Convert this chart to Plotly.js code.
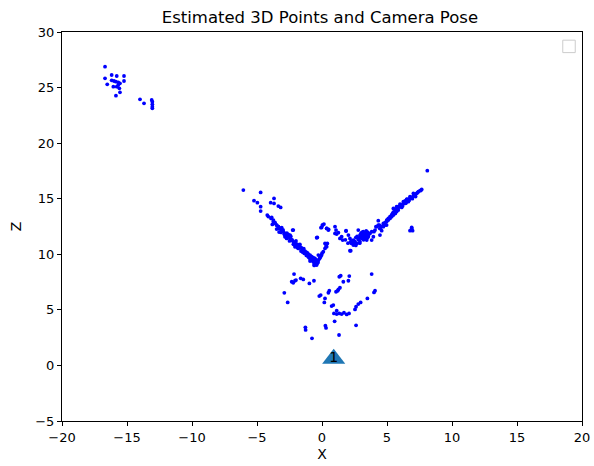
<!DOCTYPE html>
<html>
<head>
<meta charset="utf-8">
<script src="https://cdn.plot.ly/plotly-3.0.1.min.js"></script>
<style>html,body{margin:0;padding:0;background:#fff}#chart{width:594px;height:466px}</style>
</head>
<body>
<div id="chart"></div>
<script>
// Far cluster (upper left)
const farX = [-16.69,-16.69,-16.18,-15.79,-15.23,-15.23,-16.52,-16.18,-16.0,-15.85,-15.67,-15.54,-15.67,-15.79,-15.59,-16.05,-15.54,-15.85,-14.0,-13.69,-13.1,-13.05,-13.05,-13.05,-13.05];
const farZ = [26.88,25.83,26.13,26.04,26.04,25.59,25.29,25.65,25.59,25.53,25.47,25.38,25.23,25.08,24.93,25.08,24.57,24.27,23.94,23.58,23.88,23.73,23.49,23.28,23.13];

// Left arm of the V and sparse points around it
const leftX = [-6.05,-4.72,-5.23,-4.97,-4.72,-4.72,-3.69,-3.95,-3.69,-3.36,-3.18,-4.21,-3.87,-3.74,-3.62,-3.49,-3.36,-3.23,-3.10,-2.26,-0.36,0.05,-0.03,0.15,0.36,0.51,0.41,0.31,
  -4.13,-3.92,-3.74,-3.62,-3.82,-3.49,-3.36,-3.23,-3.49,-3.10,-2.97,-3.15,-2.85,-2.72,-2.59,-2.85,-2.46,-2.33,-2.21,-2.21,-2.08,-1.95,-1.82,-1.69,-2.08,-1.56,-1.44,-1.31,-1.18,-1.36,-1.05,-0.92,-1.10,-0.79,-0.67,-0.54,-0.79,-0.92,-0.67,-0.54,-0.41,-0.28,-0.15,-0.03,0.10,0.23,0.36,-0.41,-0.59,-0.28,-0.41,0.03,-0.08,0.36,0.49,0.23,
  -1.05,-0.67,-0.85,-0.49,-1.18,-1.82,-1.62,-2.46,-2.72];
const leftZ = [15.78,15.57,14.82,14.64,14.28,13.89,15.03,14.64,14.58,14.34,14.22,13.53,13.32,12.94,12.78,12.63,12.48,12.33,12.18,12.18,11.52,12.63,12.42,12.72,12.33,12.24,10.98,10.74,
  13.39,13.23,13.08,12.87,12.69,12.63,12.48,12.33,12.27,12.18,12.03,11.97,11.88,11.73,11.58,11.58,11.43,11.28,12.18,11.13,11.07,10.89,10.77,10.68,10.68,10.53,10.38,10.29,10.17,10.08,9.99,9.93,9.87,9.78,9.69,9.63,9.48,9.39,9.33,9.18,9.33,9.48,9.69,9.93,10.23,10.53,10.68,9.03,9.09,9.93,11.49,12.63,12.39,12.33,12.18,10.98,
  9.78,9.57,9.63,9.48,9.99,10.53,10.29,11.73,11.43];

// Middle cluster and right arm
const rightX = [1.08,1.26,1.13,1.38,1.59,1.85,2.21,4.0,4.15,4.33,4.41,4.72,4.97,6.90,6.77,6.97,8.10,
  1.0,1.0,1.85,1.51,2.03,2.15,2.21,2.28,2.41,2.54,2.41,2.67,2.79,2.92,3.05,3.18,3.31,3.44,3.18,3.05,3.31,3.56,3.69,3.82,3.95,4.08,4.21,4.33,4.46,4.59,4.72,4.85,4.97,5.10,5.23,5.36,5.49,5.62,5.74,3.44,2.92,2.79,2.15,4.46,3.82,3.13,3.38,3.23,2.97,3.49,
  7.67,7.54,7.41,7.28,7.15,7.03,6.90,6.77,6.64,6.51,6.38,6.26,6.13,6.0,5.87,5.74,5.62,5.49,5.44,5.36,5.23,5.10,4.97,4.85,4.72,4.59,4.46,6.90,7.03,6.77,6.51,6.26,6.0,5.74,5.62,5.87,6.13,6.38,6.64,5.49];
const rightZ = [12.18,11.94,11.82,11.43,11.28,12.09,10.32,12.03,12.48,13.02,12.63,12.48,12.63,12.33,12.12,12.12,17.52,
  12.48,11.88,12.12,11.58,11.73,11.43,11.13,10.98,11.28,11.13,10.83,10.98,11.43,11.73,11.88,12.03,11.88,11.73,11.58,11.43,11.43,11.58,11.88,12.03,11.58,12.18,12.48,12.63,12.33,12.12,12.78,12.63,12.93,13.08,13.23,13.38,13.53,13.68,13.83,11.28,11.13,12.18,10.32,11.73,11.28,11.82,11.94,11.73,11.58,11.49,
  15.84,15.72,15.63,15.48,15.33,15.24,15.12,15.03,14.88,14.82,14.73,14.58,14.43,14.34,14.22,14.04,13.92,13.80,13.68,13.53,13.38,13.23,13.02,12.84,12.63,12.48,12.33,12.42,15.48,15.18,14.94,14.73,14.52,14.28,13.68,13.98,14.22,14.58,14.73,14.13];

const denseX = [-3.3,-3.0,-2.9,-2.6,-2.4,-2.3,-2.0,-1.9,-1.7,-1.6,-1.4,-1.3,-1.1,-1.0,-0.8,-0.7,-0.6,-0.45,-0.35,-0.2,-0.1,0.0,-0.5,-0.3,-0.9,-1.2,-1.5,-2.5,-2.7,-3.1,-3.3,-2.2,-1.9,-0.6,-0.4,
  2.6,2.8,3.0,3.1,3.3,3.4,3.0,2.7,3.2,2.5,2.3,2.0,1.8,2.9,3.6,3.5,2.6,
  5.0,5.3,5.55,5.8,6.05,6.3,6.55,6.8,7.1,7.35,7.6,5.9,6.2,6.45,6.7,6.95,5.65,5.4,7.2,6.4];
const denseZ = [12.3,12.2,11.8,11.8,11.6,11.3,11.2,10.9,10.9,10.6,10.5,10.2,10.1,9.7,9.6,9.4,9.25,9.15,9.2,9.6,9.8,10.1,9.5,9.3,9.55,9.9,10.2,11.2,11.9,12.4,12.0,10.9,10.6,9.0,9.45,
  11.5,11.3,11.6,12.0,11.6,12.1,11.9,11.6,11.3,11.0,11.2,11.0,11.3,11.0,11.8,12.0,10.8,
  13.1,13.4,13.75,14.1,14.45,14.65,14.95,15.1,15.35,15.55,15.75,14.3,14.35,14.6,14.85,15.0,13.85,13.6,15.2,14.8];

// Lower scattered points
const lowX = [-2.15,-2.33,-2.08,-2.21,-2.0,-1.64,-1.44,-0.97,-0.62,-2.90,-2.64,-0.21,-0.10,0.49,0.56,0.23,0.18,0.74,0.87,1.08,1.26,1.38,1.21,1.33,1.44,2.10,2.03,1.64,3.82,4.08,4.0,3.49,2.97,2.79,2.62,2.54,0.92,1.13,1.33,1.51,1.69,1.90,2.08,1.13,0.97,-1.28,-1.26,0.26,0.31,2.62,-0.77,1.31];
const lowZ = [8.22,7.53,7.62,7.44,7.68,7.84,7.74,7.38,7.62,6.53,5.67,6.24,6.33,6.54,6.72,6.03,5.67,5.34,5.43,6.63,6.84,6.99,6.72,7.98,8.07,8.04,7.62,7.53,8.22,6.72,6.57,6.03,5.67,5.52,5.28,5.04,4.68,4.92,4.68,4.62,4.74,4.59,4.68,4.62,3.97,3.43,3.19,3.57,3.37,3.61,2.44,2.74];

// Camera
const camX = [0.9];
const camZ = [0.6];
const camLabel = ["1"];

const ptsX = farX.concat(leftX, rightX, denseX, lowX);
const ptsZ = farZ.concat(leftZ, rightZ, denseZ, lowZ);

const font = "DejaVu Sans, sans-serif";
const traces = [
  {x: ptsX, y: ptsZ, type: "scatter", mode: "markers",
   marker: {color: "#0000ff", size: 3.8, line: {width: 0}}, showlegend: false, hoverinfo: "none"},
  {x: camX, y: camZ, type: "scatter", mode: "markers+text", text: camLabel,
   textposition: "middle center", textfont: {family: font, size: 14, color: "#000"},
   marker: {symbol: "triangle-up", color: "#1f77b4", size: 20, line: {width: 0}}, showlegend: false, hoverinfo: "none"}
];

const axisCommon = {
  showline: true, mirror: true, linecolor: "#000", linewidth: 1,
  ticks: "outside", ticklen: 4, tickwidth: 1, tickcolor: "#000",
  showgrid: false, zeroline: false,
  tickfont: {family: font, size: 13, color: "#000"}
};

const layout = {
  width: 594, height: 466,
  margin: {l: 62, r: 12, t: 32, b: 45},
  paper_bgcolor: "#fff", plot_bgcolor: "#fff",
  title: {text: "Estimated 3D Points and Camera Pose", font: {family: font, size: 16.5, color: "#000"},
    xref: "paper", x: 0.496, xanchor: "center", yref: "container", y: 0.962, yanchor: "middle"},
  xaxis: Object.assign({}, axisCommon, {range: [-20, 20], tickvals: [-20,-15,-10,-5,0,5,10,15,20],
    title: {text: "X", font: {family: font, size: 14, color: "#000"}, standoff: 5}}),
  yaxis: Object.assign({}, axisCommon, {range: [-5, 30], tickvals: [-5,0,5,10,15,20,25,30],
    title: {text: "Z", font: {family: font, size: 14, color: "#000"}, standoff: 10}}),
  shapes: [
    {type: "rect", xref: "paper", yref: "paper", x0: 0.963, x1: 0.987, y0: 0.947, y1: 0.979,
     line: {color: "#cccccc", width: 1}, fillcolor: "rgba(255,255,255,0.8)"}
  ]
};

Plotly.newPlot("chart", traces, layout, {staticPlot: true, displayModeBar: false});
</script>
</body>
</html>
